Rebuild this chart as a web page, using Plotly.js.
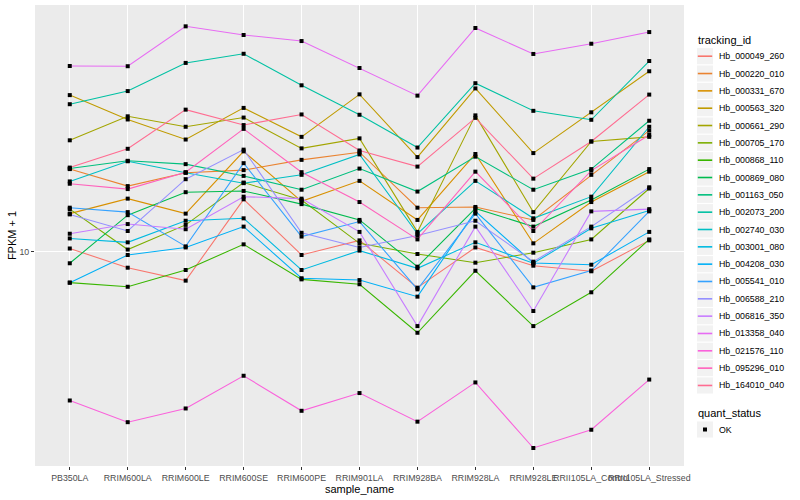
<!DOCTYPE html>
<html>
<head>
<meta charset="utf-8">
<script src="https://cdn.plot.ly/plotly-3.0.1.min.js"></script>
<style>html,body{margin:0;padding:0;background:#fff;}#chart{width:800px;height:500px;}</style>
</head>
<body>
<div id="chart"></div>
<script>
// ---- data (FPKM + 1) ----
const sampleNames = ['PB350LA','RRIM600LA','RRIM600LE','RRIM600SE','RRIM600PE','RRIM901LA','RRIM928BA','RRIM928LA','RRIM928LE','RRII105LA_Control','RRII105LA_Stressed'];
const trackingIds = ['Hb_000049_260','Hb_000220_010','Hb_000331_670','Hb_000563_320','Hb_000661_290','Hb_000705_170','Hb_000868_110','Hb_000869_080','Hb_001163_050','Hb_002073_200','Hb_002740_030','Hb_003001_080','Hb_004208_030','Hb_005541_010','Hb_006588_210','Hb_006816_350','Hb_013358_040','Hb_021576_110','Hb_095296_010','Hb_164010_040'];
const quantStatus = ['OK'];

const Hb_000049_260 = [10.3, 8.63, 7.66, 16.2, 9.70, 11.1, 7.18, 10.4, 8.79, 8.35, 11.1];
const Hb_000220_010 = [21.4, 18.3, 20.7, 21.2, 23.3, 25.0, 15.0, 15.1, 13.4, 20.3, 30.5];
const Hb_000331_670 = [14.2, 16.3, 14.2, 25.2, 15.9, 19.2, 13.4, 24.6, 10.8, 15.8, 20.9];
const Hb_000563_320 = [42.3, 33.8, 28.1, 37.6, 28.8, 42.6, 23.9, 45.0, 24.8, 36.1, 52.7];
const Hb_000661_290 = [27.9, 34.8, 31.6, 34.4, 25.9, 28.4, 12.0, 35.1, 14.4, 27.6, 28.8];
const Hb_000705_170 = [14.8, 10.2, 12.8, 18.9, 16.1, 10.8, 9.79, 9.04, 9.91, 11.2, 17.9];
const Hb_000868_110 = [7.52, 7.24, 8.45, 10.7, 7.75, 7.41, 4.74, 8.39, 5.04, 6.88, 11.2];
const Hb_000869_080 = [8.99, 14.0, 17.3, 17.5, 15.5, 13.4, 8.71, 14.9, 12.6, 16.1, 21.4];
const Hb_001163_050 = [21.5, 23.1, 22.4, 20.1, 17.7, 21.5, 17.4, 24.0, 17.7, 21.4, 33.4];
const Hb_002073_200 = [38.9, 43.9, 56.9, 61.9, 46.3, 35.3, 26.1, 47.2, 36.6, 33.7, 57.9];
const Hb_002740_030 = [19.1, 23.0, 20.7, 18.8, 20.3, 24.5, 11.8, 19.2, 13.6, 16.6, 31.6];
const Hb_003001_080 = [11.3, 10.9, 13.3, 13.6, 8.45, 10.1, 8.58, 10.9, 8.99, 12.4, 14.6];
const Hb_004208_030 = [7.52, 9.70, 10.4, 12.6, 7.83, 7.70, 6.61, 14.5, 9.01, 8.87, 12.0];
const Hb_005541_010 = [15.0, 14.4, 10.5, 22.6, 11.5, 13.2, 7.07, 14.2, 7.20, 8.41, 14.5];
const Hb_006588_210 = [14.1, 12.1, 19.5, 25.6, 11.9, 10.4, 11.6, 13.3, 9.12, 12.6, 18.1];
const Hb_006816_350 = [11.8, 12.9, 12.3, 16.6, 16.3, 12.0, 5.04, 12.6, 5.79, 14.5, 14.8];
const Hb_013358_040 = [55.3, 55.2, 79.7, 73.6, 69.6, 54.3, 42.1, 78.5, 61.8, 67.9, 75.6];
const Hb_021576_110 = [2.54, 2.08, 2.36, 3.19, 2.31, 2.72, 2.09, 3.00, 1.64, 1.94, 3.08];
const Hb_095296_010 = [18.7, 17.8, 20.8, 31.0, 20.8, 15.8, 11.2, 20.9, 12.1, 21.1, 29.3];
const Hb_164010_040 = [21.7, 25.8, 37.0, 32.1, 35.4, 25.4, 21.9, 34.3, 19.6, 27.6, 42.5];

const yTickVals = [10];
const yTickText = ['10'];

// ---- styling ----
const seriesColors = ['#F8766D','#EA8331','#D89000','#C09B00','#A3A500','#7CAE00','#39B600','#00BB4E','#00BF7D','#00C1A3','#00BFC4','#00BAE0','#00B0F6','#35A2FF','#9590FF','#C77CFF','#E76BF3','#FA62DB','#FF62BC','#FF6C91'];

const seriesValues = [Hb_000049_260, Hb_000220_010, Hb_000331_670, Hb_000563_320, Hb_000661_290, Hb_000705_170, Hb_000868_110, Hb_000869_080, Hb_001163_050, Hb_002073_200, Hb_002740_030, Hb_003001_080, Hb_004208_030, Hb_005541_010, Hb_006588_210, Hb_006816_350, Hb_013358_040, Hb_021576_110, Hb_095296_010, Hb_164010_040];

const FONT = '"Liberation Sans", Arial, Helvetica, sans-serif';

// plot-area geometry (pixels) used to place the ggplot-style legend
const W = 800, H = 500;
const M = {l: 35, r: 116, t: 5, b: 34};
const PW = W - M.l - M.r, PH = H - M.t - M.b;
function px(x) { return (x - M.l) / PW; }
function py(y) { return 1 - (y - M.t) / PH; }

const traces = [];
trackingIds.forEach(function (id, i) {
  traces.push({
    type: 'scatter', mode: 'lines', name: id,
    x: sampleNames, y: seriesValues[i],
    line: {color: seriesColors[i], width: 1.07},
    showlegend: false
  });
});

// all points drawn on top of the lines
const allX = [], allY = [];
seriesValues.forEach(function (vals) {
  vals.forEach(function (v, j) { allX.push(sampleNames[j]); allY.push(v); });
});
traces.push({
  type: 'scatter', mode: 'markers', name: quantStatus[0],
  x: allX, y: allY,
  marker: {color: '#000000', symbol: 'square', size: 4, line: {width: 0}},
  showlegend: false
});

// ---- ggplot-like legends built from the id / colour arrays ----
const shapes = [], annotations = [];
const KEY_L = 697, KEY_R = 713, TEXT_X = 717, FIRST_Y = 56.2, STEP = 17.33;
annotations.push({xref: 'paper', yref: 'paper', x: px(696), y: py(40.5), xanchor: 'left', yanchor: 'middle',
  text: 'tracking_id', showarrow: false, font: {family: FONT, size: 11, color: '#000000'}});
trackingIds.forEach(function (id, i) {
  const cy = FIRST_Y + i * STEP;
  shapes.push({type: 'rect', xref: 'paper', yref: 'paper', x0: px(KEY_L), x1: px(KEY_R),
    y0: py(cy - STEP / 2 + 0.6), y1: py(cy + STEP / 2 - 0.6), fillcolor: '#F2F2F2', line: {width: 0}, layer: 'above'});
  shapes.push({type: 'rect', xref: 'paper', yref: 'paper', x0: px(KEY_L + 0.8), x1: px(KEY_R - 0.8),
    y0: py(cy - 0.8), y1: py(cy + 0.8), fillcolor: seriesColors[i], line: {width: 0}, layer: 'above'});
  annotations.push({xref: 'paper', yref: 'paper', x: px(TEXT_X), y: py(cy), xanchor: 'left', yanchor: 'middle',
    text: id, showarrow: false, font: {family: FONT, size: 8.8, color: '#000000'}});
});
const QS_TITLE_Y = 412.5, QS_KEY_Y = 429.5;
annotations.push({xref: 'paper', yref: 'paper', x: px(696), y: py(QS_TITLE_Y), xanchor: 'left', yanchor: 'middle',
  text: 'quant_status', showarrow: false, font: {family: FONT, size: 11, color: '#000000'}});
shapes.push({type: 'rect', xref: 'paper', yref: 'paper', x0: px(KEY_L), x1: px(KEY_R),
  y0: py(QS_KEY_Y - STEP / 2 + 0.6), y1: py(QS_KEY_Y + STEP / 2 - 0.6), fillcolor: '#F2F2F2', line: {width: 0}, layer: 'above'});
shapes.push({type: 'rect', xref: 'paper', yref: 'paper', x0: px(703), x1: px(707),
  y0: py(QS_KEY_Y - 2), y1: py(QS_KEY_Y + 2), fillcolor: '#000000', line: {width: 0}, layer: 'above'});
annotations.push({xref: 'paper', yref: 'paper', x: px(TEXT_X), y: py(QS_KEY_Y), xanchor: 'left', yanchor: 'middle',
  text: quantStatus[0], showarrow: false, font: {family: FONT, size: 8.8, color: '#000000'}});

const layout = {
  width: W, height: H,
  margin: M,
  paper_bgcolor: '#FFFFFF',
  plot_bgcolor: '#EBEBEB',
  font: {family: FONT, color: '#000000'},
  showlegend: false,
  xaxis: {
    type: 'category', range: [-0.6, 10.6], autorange: false,
    showgrid: true, gridcolor: '#FFFFFF', gridwidth: 1.2,
    zeroline: false, showline: false,
    ticks: 'outside', ticklen: 3, tickwidth: 1, tickcolor: '#333333',
    tickangle: 0,
    tickfont: {family: FONT, size: 8.8, color: '#4D4D4D'},
    title: {text: 'sample_name', font: {family: FONT, size: 11, color: '#000000'}, standoff: 1}
  },
  yaxis: {
    type: 'log', range: [0.1428, 1.9868], autorange: false,
    tickvals: yTickVals, ticktext: yTickText,
    showgrid: true, gridcolor: '#FFFFFF', gridwidth: 1.2,
    zeroline: false, showline: false,
    ticks: 'outside', ticklen: 3, tickwidth: 1, tickcolor: '#333333',
    tickfont: {family: FONT, size: 8.8, color: '#4D4D4D'},
    title: {text: 'FPKM + 1', font: {family: FONT, size: 11, color: '#000000'}, standoff: 0}
  },
  shapes: shapes,
  annotations: annotations
};

Plotly.newPlot('chart', traces, layout, {displayModeBar: false, staticPlot: true});
</script>
</body>
</html>
